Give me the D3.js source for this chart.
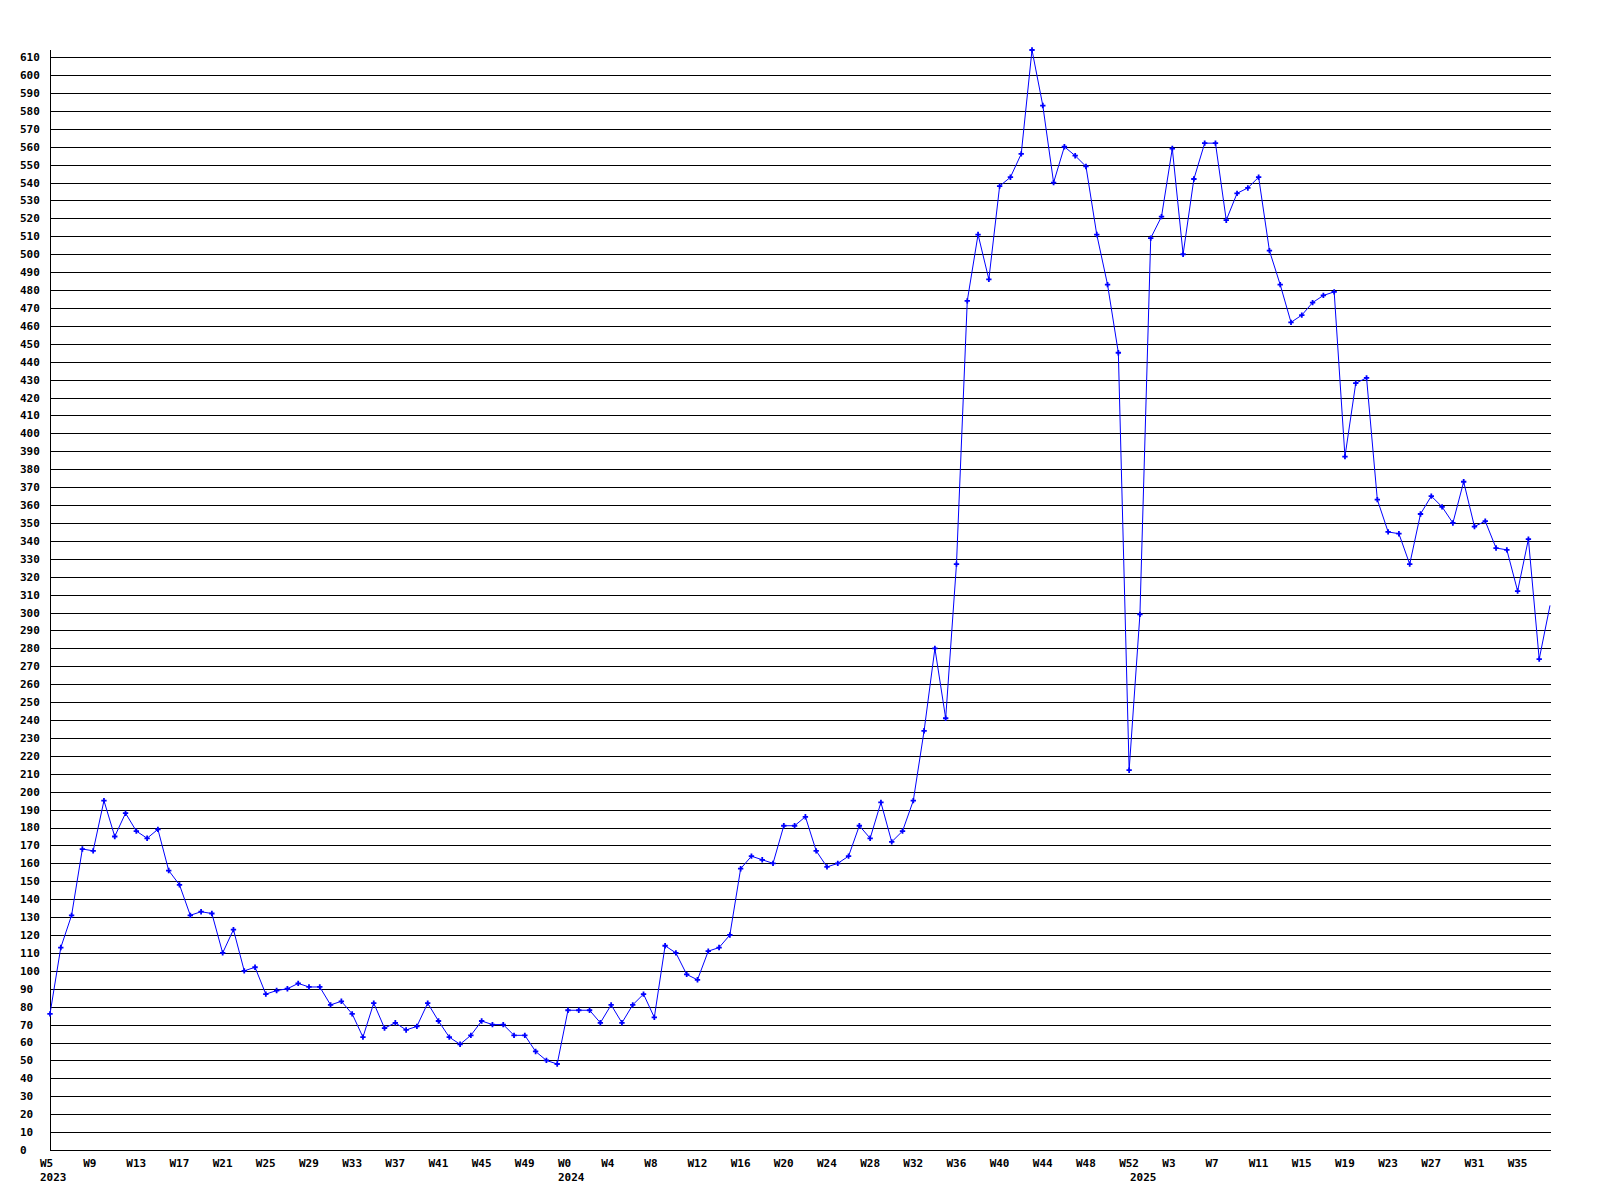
<!DOCTYPE html>
<html>
<head>
<meta charset="utf-8">
<script src="https://cdn.jsdelivr.net/npm/d3@7"></script>
<style>
  body { margin: 0; background: #fff; }
  text { font-family: "DejaVu Sans Mono", monospace; font-weight: bold; font-size: 11px; fill: #000; }
</style>
</head>
<body>
<div class="display"></div>
<script>
// weekly counts, one array per year
const values2023 = [76, 113, 131, 168, 167, 195, 175, 188, 178, 174,
  179, 156, 148, 131, 133, 132, 110, 123, 100, 102,
  87, 89, 90, 93, 91, 91, 81, 83, 76, 63,
  82, 68, 71, 67, 69, 82, 72, 63, 59, 64,
  72, 70, 70, 64, 64, 55, 50, 48];
const values2024 = [78, 78, 78, 71, 81, 71, 81, 87, 74, 114,
  110, 98, 95, 111, 113, 120, 157, 164, 162, 160,
  181, 181, 186, 167, 158, 160, 164, 181, 174, 194,
  172, 178, 195, 234, 280, 241, 327, 474, 511, 486,
  538, 543, 556, 614, 583, 540, 560, 555, 549, 511,
  483, 445, 212];
const values2025 = [299, 509, 521, 559, 500, 542, 562, 562, 519, 534,
  537, 543, 502, 483, 462, 466, 473, 477, 479, 387,
  428, 431, 363, 345, 344, 327, 355, 365, 359, 350,
  373, 348, 351, 336, 335, 312, 341, 274, 304];

const years = [2023, 2024, 2025];
const firstWeeks = [5, 0, 0];
const series = [values2023, values2024, values2025];
const yTicks = d3.range(0, 611, 10);

const width = 1600;
const height = 1200;
const plotLeft = 50, plotRight = 1550, plotTop = 50, plotBottom = 1150;

const data = [];
series.forEach((vals, s) => {
  vals.forEach((v, i) => {
    data.push({key: `${years[s]}-W${firstWeeks[s] + i}`, year: years[s], week: firstWeeks[s] + i, first: i === 0, value: v});
  });
});

const x = d3.scalePoint()
  .domain(data.map(d => d.key))
  .range([plotLeft, plotRight]);

const y = d3.scaleLinear()
  .domain([0, d3.max(data, d => d.value)])
  .range([plotBottom, plotTop]);

const svg = d3.select('.display')
  .append('svg')
  .attr('width', width)
  .attr('height', height);

// horizontal grid
svg.append('g')
  .selectAll('line')
  .data(yTicks)
  .enter()
  .append('line')
  .attr('x1', plotLeft)
  .attr('x2', plotRight + 1)
  .attr('y1', d => Math.round(y(d)) + 0.5)
  .attr('y2', d => Math.round(y(d)) + 0.5)
  .attr('stroke', '#000')
  .attr('shape-rendering', 'crispEdges');

svg.append('line')
  .attr('x1', plotLeft + 0.5)
  .attr('x2', plotLeft + 0.5)
  .attr('y1', plotTop)
  .attr('y2', plotBottom + 1)
  .attr('stroke', '#000')
  .attr('shape-rendering', 'crispEdges');

// y labels
svg.append('g')
  .selectAll('text')
  .data(yTicks)
  .enter()
  .append('text')
  .attr('x', 20)
  .attr('y', d => y(d))
  .attr('dy', '0.36em')
  .text(d => d);

// week labels every 4th point
const ticks = data.filter((d, i) => i % 4 === 0);
svg.append('g')
  .selectAll('text')
  .data(ticks)
  .enter()
  .append('text')
  .attr('x', d => x(d.key) - 10)
  .attr('y', 1167)
  .text(d => `W${d.week}`);

svg.append('g')
  .selectAll('text')
  .data(data.filter(d => d.first))
  .enter()
  .append('text')
  .attr('x', d => x(d.key) - 10)
  .attr('y', 1181)
  .text(d => d.year);

svg.append('path')
  .datum(data)
  .attr('fill', 'none')
  .attr('stroke', '#0000ff')
  .attr('stroke-width', 1)
  .attr('d', d3.line().x(d => x(d.key)).y(d => y(d.value)));

// markers (the one sitting on the right edge is not drawn)
svg.append('g')
  .selectAll('path')
  .data(data.filter(d => x(d.key) < plotRight))
  .enter()
  .append('path')
  .attr('transform', d => `translate(${x(d.key)}, ${y(d.value)})`)
  .attr('d', d3.symbol(d3.symbolCross, 16))
  .attr('fill', '#0000ff');
</script>
</body>
</html>
